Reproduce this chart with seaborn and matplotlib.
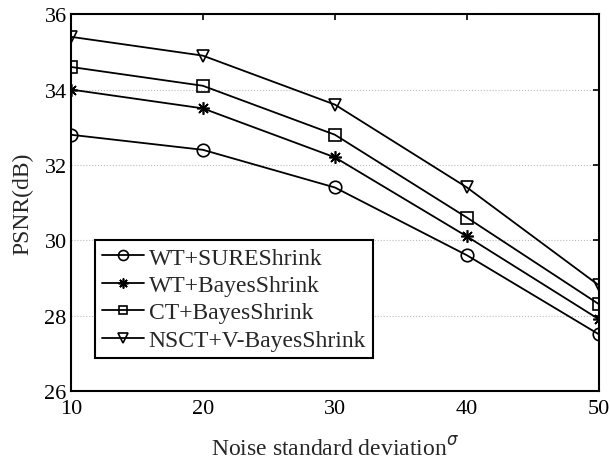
import numpy as np
import pandas as pd
import matplotlib
matplotlib.use('Agg')
import matplotlib.pyplot as plt
import seaborn as sns

# 데이터
sigma = [10, 20, 30, 40, 50]
wt_sure = [32.8, 32.4, 31.4, 29.6, 27.5]
wt_bayes = [34.0, 33.5, 32.2, 30.1, 27.9]
ct_bayes = [34.6, 34.1, 32.8, 30.6, 28.3]
nsct_vbayes = [35.4, 34.9, 33.6, 31.4, 28.8]
labels = ['WT+SUREShrink', 'WT+BayesShrink', 'CT+BayesShrink', 'NSCT+V-BayesShrink']

sns.set_style('white')
plt.rcParams['font.family'] = ['Liberation Serif', 'DejaVu Serif']
plt.rcParams['mathtext.fontset'] = 'dejavusans'

df = pd.DataFrame({'sigma': sigma * 4,
                   'psnr': wt_sure + wt_bayes + ct_bayes + nsct_vbayes,
                   'method': np.repeat(labels, len(sigma))})

fig = plt.figure(figsize=(6.1, 4.6), dpi=100)
ax = fig.add_axes([0.116, 0.148, 0.866, 0.819])

markers = ['o', (8, 2, 0), 's', 'v']
for lab, mk in zip(labels, markers):
    sub = df[df['method'] == lab]
    sns.lineplot(x='sigma', y='psnr', data=sub, ax=ax, color='black', lw=1.3,
                 marker=mk, markersize=9 if mk != 's' else 8,
                 markerfacecolor='none', markeredgecolor='black', markeredgewidth=1.2,
                 label=lab)

ax.set_xlim(10, 50)
ax.set_ylim(26, 36)
ax.set_xticks([10, 20, 30, 40, 50])
ax.set_yticks([26, 28, 30, 32, 34, 36])
ax.yaxis.grid(True, color='#bbbbbb', lw=0.8, ls=':')
ax.tick_params(direction='in', top=True, right=True, length=4, width=1.2,
               labelsize=16, colors='black')
ax.tick_params(axis='x', pad=5.5)
ax.tick_params(axis='y', pad=3)
for s in ax.spines.values():
    s.set_color('black')
    s.set_linewidth(1.5)

ax.set_xlabel(r'Noise standard deviation$^\sigma$', fontsize=17, labelpad=13)
ax.set_ylabel('PSNR(dB)', fontsize=17, labelpad=8)

leg = ax.legend(loc='lower left', bbox_to_anchor=(0.045, 0.0875), borderaxespad=0,
                fontsize=17, fancybox=False, framealpha=1, edgecolor='black',
                handlelength=1.8, labelspacing=0.25, borderpad=0.3, handletextpad=0.2,
                markerscale=0.8)
leg.get_frame().set_linewidth(1.5)

fig.savefig('out.png', dpi=100)
